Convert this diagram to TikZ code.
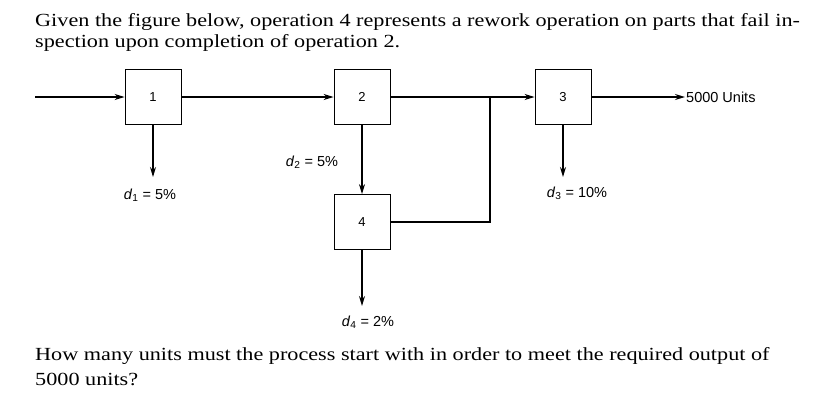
\documentclass[tikz,border=0pt]{standalone}
\usepackage{fontspec}
\setmainfont{Liberation Serif}
\newfontfamily\widefont{Liberation Serif}[FakeStretch=1.2]
\newfontfamily\lab{Liberation Sans}
\usetikzlibrary{arrows.meta}
\newcommand{\dsub}[1]{\textit{d}\textsubscript{#1}}
\begin{document}
\begin{tikzpicture}[x=1pt,y=-1pt,
  box/.style={draw,line width=0.8pt,minimum width=56pt,minimum height=55pt,inner sep=0pt,font=\lab\fontsize{13}{15}\selectfont},
  ln/.style={line width=1.3pt},
  ar/.style={ln,-{Stealth[length=10pt,width=6pt]}},
  lb/.style={font=\lab\fontsize{14.5}{16}\selectfont,inner sep=1pt},
  txt/.style={font=\widefont\fontsize{18.5}{22}\selectfont,anchor=west,inner sep=0pt}]
\useasboundingbox (0,0) rectangle (825,405);
\node[txt] (t1) at (35,22) {Given the figure below, operation 4 represents a rework operation on parts that fail in-};
\node[txt] (t2) at (35,43) {spection upon completion of operation 2.};
\node[txt] (t3) at (35,356) {How many units must the process start with in order to meet the required output of};
\node[txt] (t4) at (35,379) {5000 units?};
\node[box] (b1) at (153,97) {1};
\node[box] (b2) at (362,97) {2};
\node[box] (b3) at (563,97) {3};
\node[box] (b4) at (362,222) {4};
\coordinate (in) at (35,97);
\coordinate (j) at (490,97);
\coordinate (jb) at (490,222);
\coordinate (o1) at (153,177);
\coordinate (o3) at (563,177);
\coordinate (o4) at (362,306);
\node[lb,anchor=west] (out) at (685,97) {5000 Units};
\draw[ar] (in) -- (b1.west);
\draw[ar] (b1.east) -- (b2.west);
\draw[ar] (b2.east) -- (b3.west);
\draw[ar] (b3.east) -- (out.west);
\draw[ln] (j) -- (jb) -- (b4.east);
\draw[ar] (b1.south) -- (o1);
\draw[ar] (b2.south) -- (b4.north);
\draw[ar] (b3.south) -- (o3);
\draw[ar] (b4.south) -- (o4);
\node[lb] (d1) at (150,195) {\dsub{1} = 5\%};
\node[lb] (d2) at (312,162) {\dsub{2} = 5\%};
\node[lb] (d3) at (577,193) {\dsub{3} = 10\%};
\node[lb] (d4) at (368,322) {\dsub{4} = 2\%};
\end{tikzpicture}
\end{document}
